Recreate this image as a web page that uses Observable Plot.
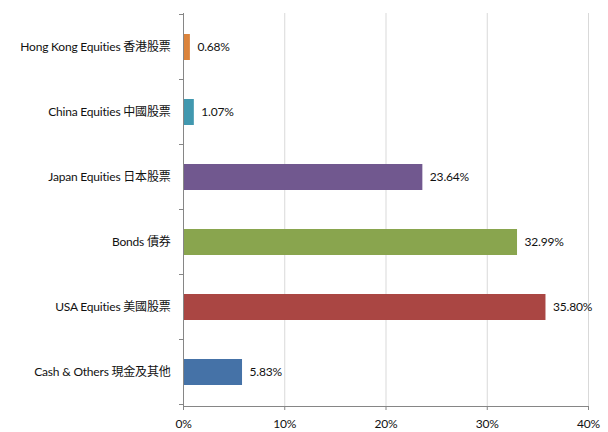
<!DOCTYPE html>
<html><head><meta charset="utf-8">
<script src="https://cdn.jsdelivr.net/npm/d3@7"></script>
<script src="https://cdn.jsdelivr.net/npm/@observablehq/plot@0.6"></script>
<style>body{margin:0;background:#fff} svg text{letter-spacing:-0.2px}</style>
</head><body><div id="chart"></div>
<script>
const categories = [
  "Hong Kong Equities 香港股票",
  "China Equities 中國股票",
  "Japan Equities 日本股票",
  "Bonds 債券",
  "USA Equities 美國股票",
  "Cash & Others 現金及其他"
];
const values = [0.68, 1.07, 23.64, 32.99, 35.80, 5.83];
const colors = ["#DB843D", "#4198AF", "#71588F", "#89A54E", "#AA4643", "#4572A7"];
const xTicks = [0, 10, 20, 30, 40];
const xDomain = [0, 40];

const data = categories.map((c, i) => ({category: c, value: values[i], color: colors[i]}));

const axisGray = "#868686";

// axis lines and category-boundary ticks, positioned from the scales
const axisDecor = (index, scales, vals, dimensions) => {
  const x = scales.x, y = scales.y;
  const top = dimensions.marginTop;
  const bottom = dimensions.height - dimensions.marginBottom;
  const step = y.step(), bw = y.bandwidth();
  const g = d3.create("svg:g").attr("stroke", axisGray).attr("fill", "none").attr("shape-rendering", "crispEdges");
  const x0 = x(xDomain[0]);
  g.append("line").attr("x1", x0).attr("x2", x0).attr("y1", top).attr("y2", bottom);
  g.append("line").attr("x1", x0).attr("x2", x(xDomain[1])).attr("y1", bottom).attr("y2", bottom);
  const bounds = categories.map(c => y(c) + bw / 2 - step / 2);
  bounds.push(y(categories[categories.length - 1]) + bw / 2 + step / 2);
  for (const b of bounds) {
    g.append("line").attr("x1", x0 - 4).attr("x2", x0).attr("y1", b).attr("y2", b);
  }
  return g.node();
};

const chart = Plot.plot({
  width: 608,
  height: 432,
  marginLeft: 183,
  marginRight: 20,
  marginTop: 13,
  marginBottom: 26,
  style: {fontFamily: "Lato, 'Noto Sans CJK TC', sans-serif", fontSize: "12px", color: "#111", background: "#fff"},
  x: {domain: xDomain, axis: null},
  y: {domain: categories, paddingInner: 0.6, paddingOuter: 0.3, axis: null},
  color: {type: "identity"},
  marks: [
    Plot.gridX({ticks: xTicks, stroke: "#d9d9d9", strokeOpacity: 1}),
    Plot.barX(data, {x: "value", y: "category", fill: "color"}),
    Plot.text(data, {x: "value", y: "category", text: d => d.value.toFixed(2) + "%", textAnchor: "start", dx: 7, fill: "#111", fontSize: 12}),
    Plot.axisX({ticks: xTicks, tickSize: 4, tickPadding: 9, stroke: axisGray, tickFormat: d => d + "%", fontSize: 12, fill: "#111", label: null}),
    Plot.axisY({tickSize: 0, tickPadding: 13, fontSize: 12, fill: "#111", label: null}),
    axisDecor
  ]
});
document.getElementById("chart").append(chart);
</script>
</body></html>
